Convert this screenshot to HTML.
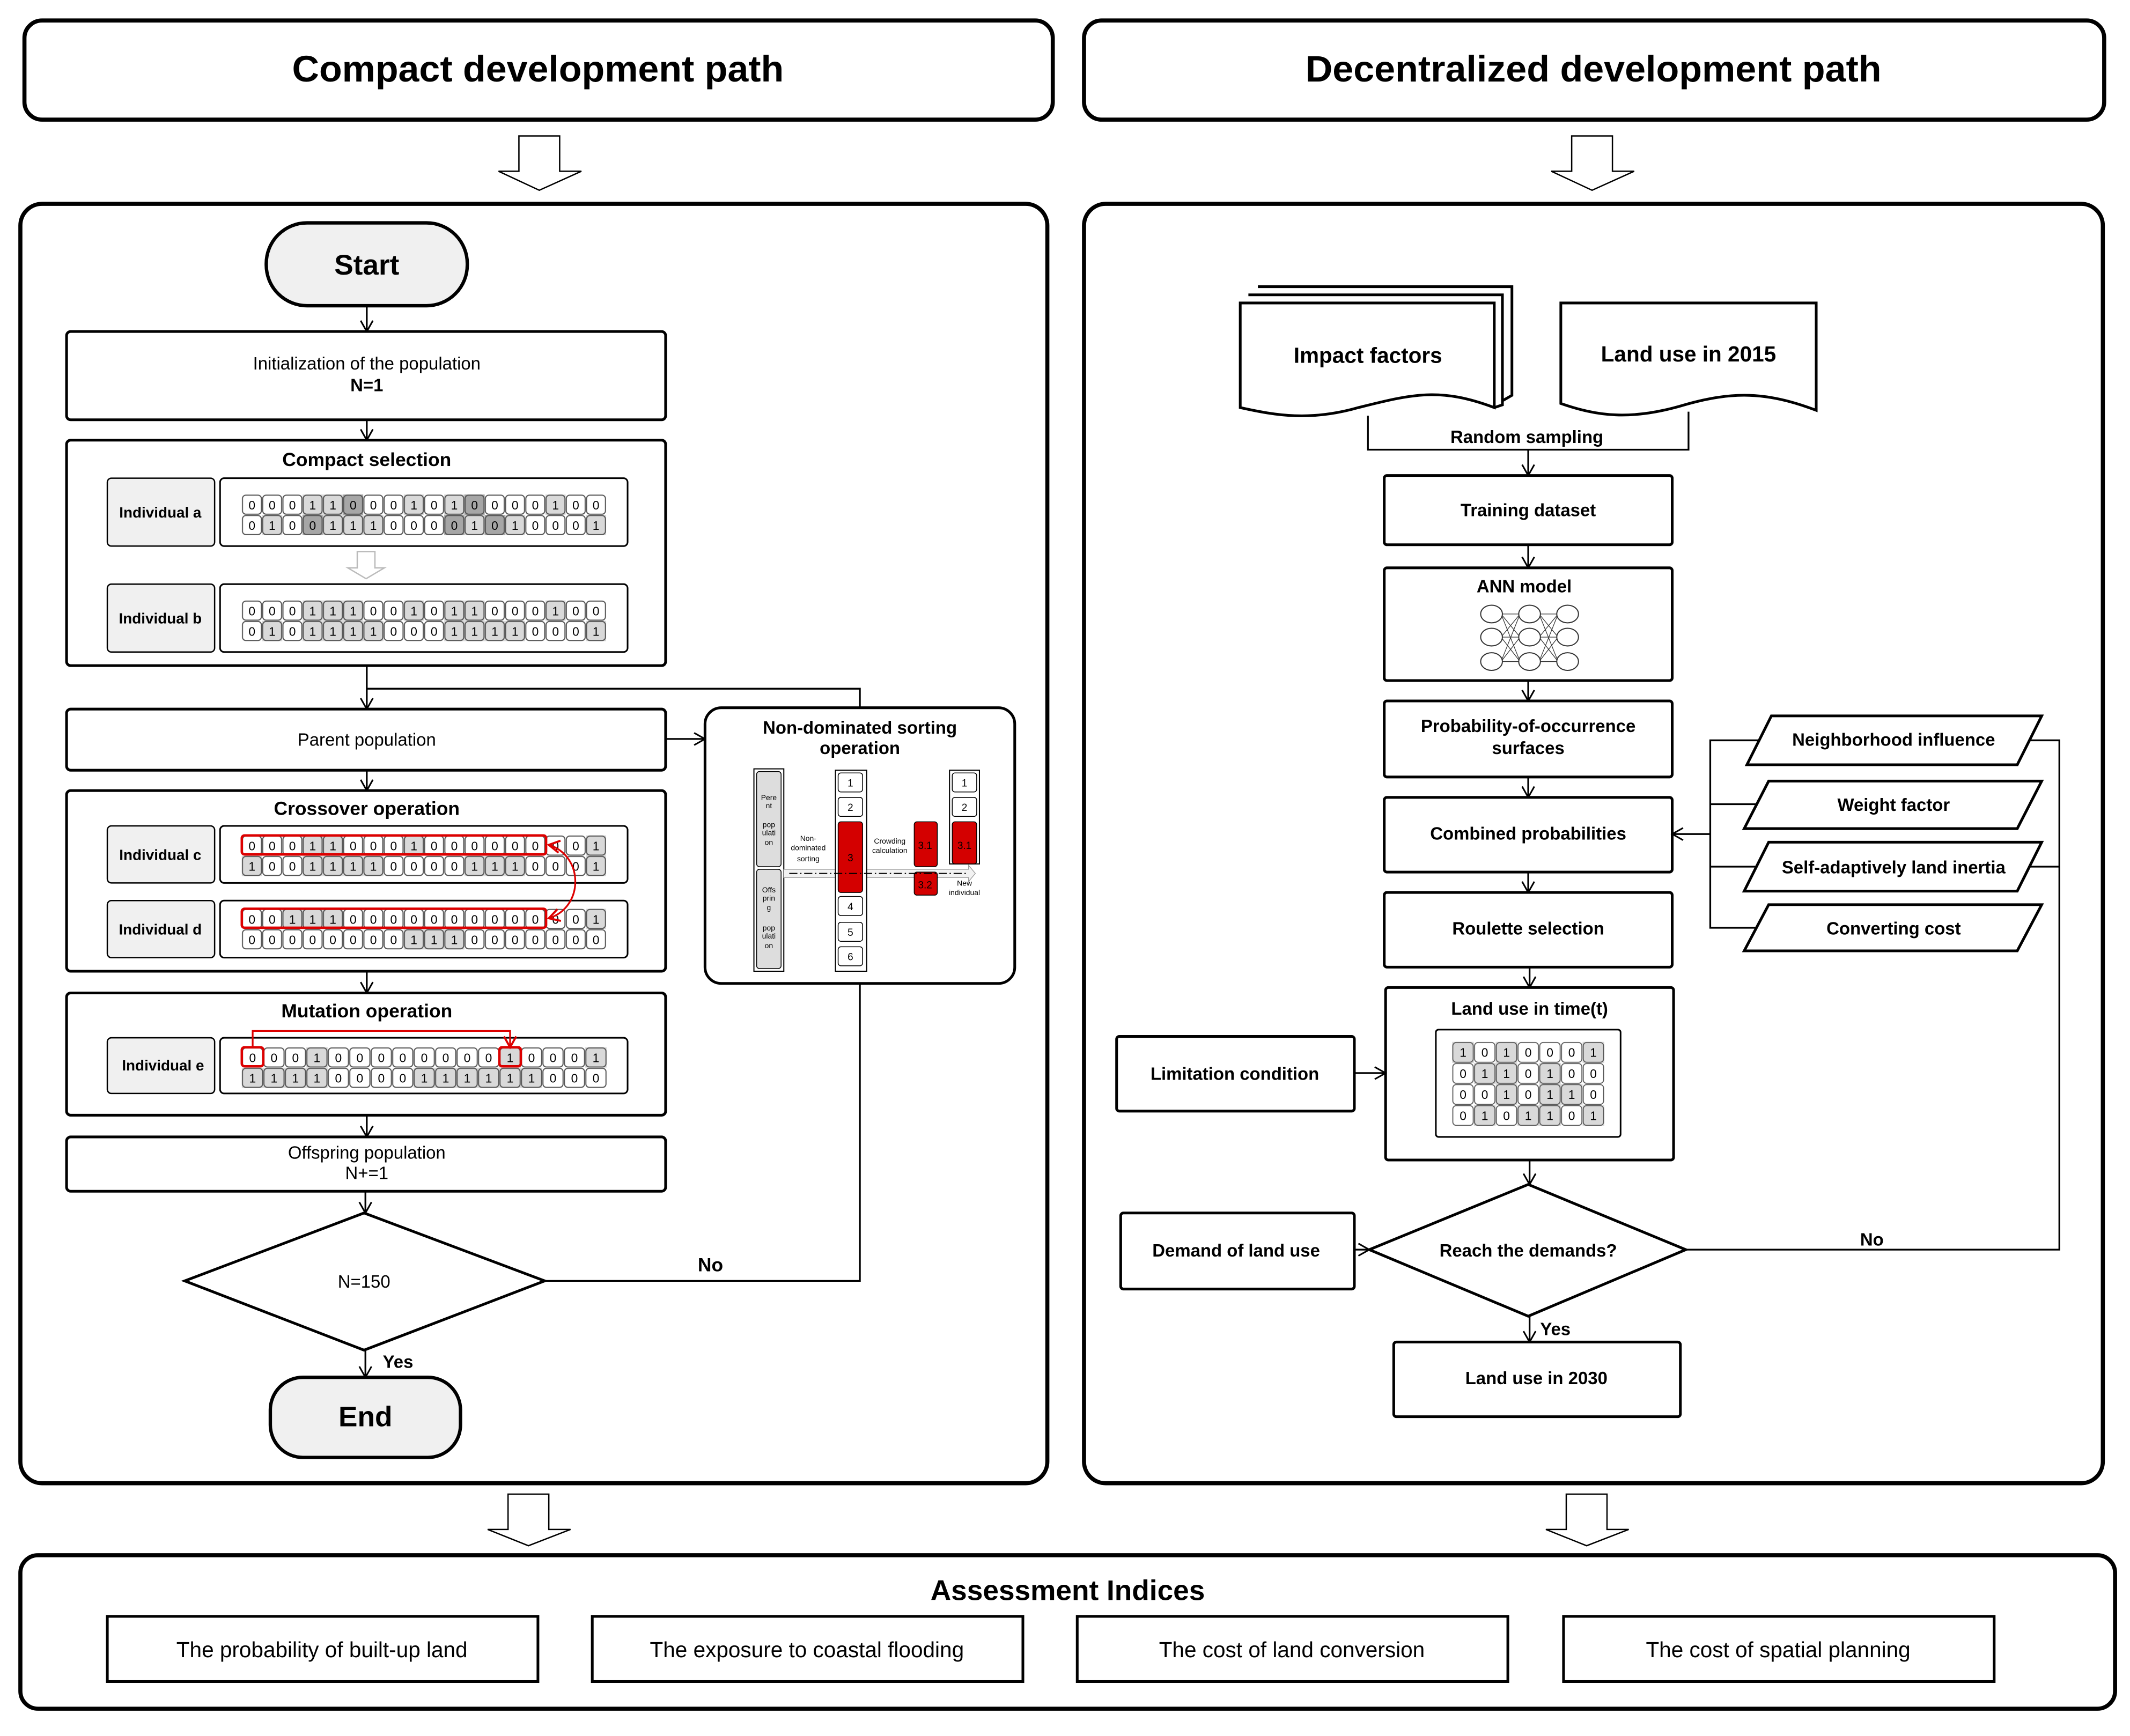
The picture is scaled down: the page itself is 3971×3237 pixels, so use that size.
<!DOCTYPE html>
<html><head><meta charset="utf-8"><style>
html,body{margin:0;padding:0;background:#fff}
svg{display:block}
text{font-family:"Liberation Sans","DejaVu Sans",sans-serif;fill:#000}
.b{font-weight:bold}
.box{fill:#fff;stroke:#000;stroke-width:2}
.thin{fill:#fff;stroke:#000;stroke-width:1.2}
.ln{fill:none;stroke:#000;stroke-width:1.3}
.g1{fill:#d9d9d9}
.g2{fill:#a6a6a6}
.cells{font-size:9px;text-anchor:middle}
.c{text-anchor:middle}
</style></head><body>
<svg width="3971" height="3237" viewBox="0 0 1568 1278" xmlns="http://www.w3.org/2000/svg">
<defs>
<marker id="a" markerWidth="12" markerHeight="12" refX="10" refY="6" orient="auto" markerUnits="userSpaceOnUse"><path d="M2,1.5 L10,6 L2,10.5" fill="none" stroke="#000" stroke-width="1.2"/></marker>
<marker id="r" markerWidth="12" markerHeight="12" refX="10" refY="6" orient="auto" markerUnits="userSpaceOnUse"><path d="M2,1.5 L10,6 L2,10.5" fill="none" stroke="#d00" stroke-width="1.5"/></marker>
<pattern id="p18" patternUnits="userSpaceOnUse" x="0" y="0" width="14.9" height="15"><rect x="0.5" y="0.5" width="13.9" height="14" rx="2.5" fill="none" stroke="#555" stroke-width="0.8"/></pattern>
<pattern id="p17" patternUnits="userSpaceOnUse" x="0" y="0" width="15.8" height="15"><rect x="0.5" y="0.5" width="14.8" height="14" rx="2.5" fill="none" stroke="#555" stroke-width="0.8"/></pattern>
<pattern id="p7" patternUnits="userSpaceOnUse" x="0" y="0" width="16" height="15.5"><rect x="0.5" y="0.5" width="15" height="14.5" rx="2.5" fill="none" stroke="#555" stroke-width="0.7"/></pattern>
</defs>

<!-- headers -->
<rect x="18" y="15" width="757" height="73" rx="13" fill="#fff" stroke="#000" stroke-width="3"/>
<text x="396" y="60" class="b c" font-size="27" textLength="362" lengthAdjust="spacingAndGlyphs">Compact development path</text>
<rect x="798" y="15" width="751" height="73" rx="13" fill="#fff" stroke="#000" stroke-width="3"/>
<text x="1173" y="60" class="b c" font-size="27" textLength="424" lengthAdjust="spacingAndGlyphs">Decentralized development path</text>

<!-- hollow arrows -->
<path d="M382,100 H412 V126 H428 L397,140 L367,126 H382 Z" fill="#fff" stroke="#000" stroke-width="1"/>
<path d="M1157,100 H1187 V126 H1203 L1172,140 L1142,126 H1157 Z" fill="#fff" stroke="#000" stroke-width="1"/>
<path d="M374,1100 H404 V1126 H420 L389,1138 L359,1126 H374 Z" fill="#fff" stroke="#000" stroke-width="1"/>
<path d="M1153,1100 H1183 V1126 H1199 L1168,1138 L1138,1126 H1153 Z" fill="#fff" stroke="#000" stroke-width="1"/>

<!-- panels -->
<rect x="15" y="150" width="756" height="942" rx="16" fill="#fff" stroke="#000" stroke-width="3"/>
<rect x="798" y="150" width="750" height="942" rx="16" fill="#fff" stroke="#000" stroke-width="3"/>

<!-- bottom -->
<rect x="15" y="1145" width="1542" height="113" rx="13" fill="#fff" stroke="#000" stroke-width="3"/>
<text x="786" y="1178" class="b c" font-size="21" textLength="202" lengthAdjust="spacingAndGlyphs">Assessment Indices</text>
<rect x="79" y="1190" width="317" height="48" class="box"/>
<text x="237" y="1220" class="c" font-size="16">The probability of built-up land</text>
<rect x="436" y="1190" width="317" height="48" class="box"/>
<text x="594" y="1220" class="c" font-size="16">The exposure to coastal flooding</text>
<rect x="793" y="1190" width="317" height="48" class="box"/>
<text x="951" y="1220" class="c" font-size="16">The cost of land conversion</text>
<rect x="1151" y="1190" width="317" height="48" class="box"/>
<text x="1309" y="1220" class="c" font-size="16">The cost of spatial planning</text>

<!-- ===== LEFT FLOW ===== -->
<rect x="196" y="164" width="148" height="61" rx="30" fill="#f0f0f0" stroke="#000" stroke-width="2.5"/>
<text x="270" y="202" class="b c" font-size="21">Start</text>
<line x1="270" y1="225" x2="270" y2="244" class="ln" marker-end="url(#a)"/>
<rect x="49" y="244" width="441" height="65" rx="3" class="box"/>
<text x="270" y="272" class="c" font-size="13">Initialization of the population</text>
<text x="270" y="288" class="b c" font-size="13">N=1</text>
<line x1="270" y1="309" x2="270" y2="324" class="ln" marker-end="url(#a)"/>

<rect x="49" y="324" width="441" height="166" rx="3" class="box"/>
<text x="270" y="343" class="b c" font-size="14">Compact selection</text>
<rect x="79" y="352" width="79" height="50" rx="3" fill="#f0f0f0" stroke="#000" stroke-width="1"/>
<text x="118" y="381" class="b c" font-size="11">Individual a</text>
<rect x="162" y="352" width="300" height="50" rx="3" class="thin"/>
<g transform="translate(178,364)">
<rect width="268.2" height="15" fill="#fff"/>
<rect x="44.7" width="14.9" height="15" class="g1"/><rect x="59.6" width="14.9" height="15" class="g1"/><rect x="119.2" width="14.9" height="15" class="g1"/><rect x="149" width="14.9" height="15" class="g1"/><rect x="223.5" width="14.9" height="15" class="g1"/>
<rect x="74.5" width="14.9" height="15" class="g2"/><rect x="163.9" width="14.9" height="15" class="g2"/>
<rect width="268.2" height="15" fill="url(#p18)"/>
<text class="cells" y="11" x="7.45 22.35 37.25 52.15 67.05 81.95 96.85 111.75 126.65 141.55 156.45 171.35 186.25 201.15 216.05 230.95 245.85 260.75">000110001010000100</text>
</g>
<g transform="translate(178,379)">
<rect width="268.2" height="15" fill="#fff"/>
<rect x="14.9" width="14.9" height="15" class="g1"/><rect x="59.6" width="14.9" height="15" class="g1"/><rect x="74.5" width="14.9" height="15" class="g1"/><rect x="89.4" width="14.9" height="15" class="g1"/><rect x="163.9" width="14.9" height="15" class="g1"/><rect x="193.7" width="14.9" height="15" class="g1"/><rect x="253.3" width="14.9" height="15" class="g1"/>
<rect x="44.7" width="14.9" height="15" class="g2"/><rect x="149" width="14.9" height="15" class="g2"/><rect x="178.8" width="14.9" height="15" class="g2"/>
<rect width="268.2" height="15" fill="url(#p18)"/>
<text class="cells" y="11" x="7.45 22.35 37.25 52.15 67.05 81.95 96.85 111.75 126.65 141.55 156.45 171.35 186.25 201.15 216.05 230.95 245.85 260.75">010011100001010001</text>
</g>
<path d="M263,406 H276 V418 H283 L269.5,426 L256,418 H263 Z" fill="#fff" stroke="#bbb" stroke-width="1"/>
<rect x="79" y="430" width="79" height="50" rx="3" fill="#f0f0f0" stroke="#000" stroke-width="1"/>
<text x="118" y="459" class="b c" font-size="11">Individual b</text>
<rect x="162" y="430" width="300" height="50" rx="3" class="thin"/>
<g transform="translate(178,442)">
<rect width="268.2" height="15" fill="#fff"/>
<rect x="44.7" width="14.9" height="15" class="g1"/><rect x="59.6" width="14.9" height="15" class="g1"/><rect x="74.5" width="14.9" height="15" class="g1"/><rect x="119.2" width="14.9" height="15" class="g1"/><rect x="149" width="14.9" height="15" class="g1"/><rect x="163.9" width="14.9" height="15" class="g1"/><rect x="223.5" width="14.9" height="15" class="g1"/>
<rect width="268.2" height="15" fill="url(#p18)"/>
<text class="cells" y="11" x="7.45 22.35 37.25 52.15 67.05 81.95 96.85 111.75 126.65 141.55 156.45 171.35 186.25 201.15 216.05 230.95 245.85 260.75">000111001011000100</text>
</g>
<g transform="translate(178,457)">
<rect width="268.2" height="15" fill="#fff"/>
<rect x="14.9" width="14.9" height="15" class="g1"/><rect x="44.7" width="14.9" height="15" class="g1"/><rect x="59.6" width="14.9" height="15" class="g1"/><rect x="74.5" width="14.9" height="15" class="g1"/><rect x="89.4" width="14.9" height="15" class="g1"/><rect x="149" width="14.9" height="15" class="g1"/><rect x="163.9" width="14.9" height="15" class="g1"/><rect x="178.8" width="14.9" height="15" class="g1"/><rect x="193.7" width="14.9" height="15" class="g1"/><rect x="253.3" width="14.9" height="15" class="g1"/>
<rect width="268.2" height="15" fill="url(#p18)"/>
<text class="cells" y="11" x="7.45 22.35 37.25 52.15 67.05 81.95 96.85 111.75 126.65 141.55 156.45 171.35 186.25 201.15 216.05 230.95 245.85 260.75">010111100011110001</text>
</g>

<line x1="270" y1="490" x2="270" y2="522" class="ln" marker-end="url(#a)"/>
<polyline points="633,521 633,507 270,507" class="ln"/>
<rect x="49" y="522" width="441" height="45" rx="3" class="box"/>
<text x="270" y="549" class="c" font-size="13">Parent population</text>
<line x1="490" y1="544" x2="519" y2="544" class="ln" marker-end="url(#a)"/>

<!-- NDS -->
<rect x="519" y="521" width="228" height="203" rx="12" fill="#fff" stroke="#000" stroke-width="2"/>
<text x="633" y="540" class="b c" font-size="13">Non-dominated sorting</text>
<text x="633" y="555" class="b c" font-size="13">operation</text>
<rect x="555" y="566" width="22" height="149" fill="#fff" stroke="#000" stroke-width="0.8"/>
<rect x="557" y="568" width="18" height="70" rx="2" fill="#ddd" stroke="#000" stroke-width="0.6"/>
<rect x="557" y="640" width="18" height="73" rx="2" fill="#ddd" stroke="#000" stroke-width="0.6"/>
<g font-size="5.5" class="c"><text x="566" y="589">Pere</text><text x="566" y="595">nt</text><text x="566" y="609">pop</text><text x="566" y="615">ulati</text><text x="566" y="622">on</text>
<text x="566" y="657">Offs</text><text x="566" y="663">prin</text><text x="566" y="670">g</text><text x="566" y="685">pop</text><text x="566" y="691">ulati</text><text x="566" y="698">on</text>
<text x="595" y="619">Non-</text><text x="595" y="626">dominated</text><text x="595" y="634">sorting</text>
<text x="655" y="621">Crowding</text><text x="655" y="628">calculation</text>
<text x="710" y="652">New</text><text x="710" y="659">individual</text></g>
<path d="M577,640 H713 V637 L718,643 L713,649 V646 H577 Z" fill="#f2f2f2" stroke="#999" stroke-width="0.5"/>
<rect x="615" y="567" width="23" height="148" fill="#fff" stroke="#000" stroke-width="0.8"/>
<rect x="699" y="567" width="22" height="69" fill="#fff" stroke="#000" stroke-width="0.8"/>
<g stroke="#000" stroke-width="0.6">
<rect x="617" y="569" width="18" height="14" rx="2" fill="#fff"/><rect x="617" y="587" width="18" height="14" rx="2" fill="#fff"/>
<rect x="617" y="605" width="18" height="52" rx="2" fill="#d40000"/>
<rect x="617" y="660" width="18" height="14" rx="2" fill="#fff"/><rect x="617" y="679" width="18" height="14" rx="2" fill="#fff"/><rect x="617" y="697" width="18" height="14" rx="2" fill="#fff"/>
<rect x="673" y="605" width="17" height="33" rx="2" fill="#d40000"/><rect x="673" y="642" width="17" height="17" rx="2" fill="#d40000"/>
<rect x="701" y="569" width="18" height="14" rx="2" fill="#fff"/><rect x="701" y="587" width="18" height="14" rx="2" fill="#fff"/>
<rect x="701" y="605" width="18" height="31" rx="2" fill="#d40000"/>
</g>
<line x1="581" y1="643" x2="713" y2="643" stroke="#000" stroke-width="0.8" stroke-dasharray="6,2,1,2"/>
<g font-size="7.5" class="c"><text x="626" y="579">1</text><text x="626" y="597">2</text><text x="626" y="634">3</text><text x="626" y="670">4</text><text x="626" y="689">5</text><text x="626" y="707">6</text>
<text x="681" y="625">3.1</text><text x="681" y="654">3.2</text><text x="710" y="579">1</text><text x="710" y="597">2</text><text x="710" y="625">3.1</text></g>

<line x1="270" y1="567" x2="270" y2="582" class="ln" marker-end="url(#a)"/>
<rect x="49" y="582" width="441" height="133" rx="3" class="box"/>
<text x="270" y="600" class="b c" font-size="14">Crossover operation</text>
<rect x="79" y="608" width="79" height="42" rx="3" fill="#f0f0f0" stroke="#000" stroke-width="1"/>
<text x="118" y="633" class="b c" font-size="11">Individual c</text>
<rect x="162" y="608" width="300" height="42" rx="3" class="thin"/>
<g transform="translate(178,615)">
<rect width="268.2" height="15" fill="#fff"/>
<rect x="44.7" width="14.9" height="15" class="g1"/><rect x="59.6" width="14.9" height="15" class="g1"/><rect x="119.2" width="14.9" height="15" class="g1"/><rect x="253.3" width="14.9" height="15" class="g1"/>
<rect width="268.2" height="15" fill="url(#p18)"/>
<text class="cells" y="11" x="7.45 22.35 37.25 52.15 67.05 81.95 96.85 111.75 126.65 141.55 156.45 171.35 186.25 201.15 216.05 230.95 245.85 260.75">000110001000000001</text>
</g>
<g transform="translate(178,630)">
<rect width="268.2" height="15" fill="#fff"/>
<rect x="0" width="14.9" height="15" class="g1"/><rect x="44.7" width="14.9" height="15" class="g1"/><rect x="59.6" width="14.9" height="15" class="g1"/><rect x="74.5" width="14.9" height="15" class="g1"/><rect x="89.4" width="14.9" height="15" class="g1"/><rect x="163.9" width="14.9" height="15" class="g1"/><rect x="178.8" width="14.9" height="15" class="g1"/><rect x="193.7" width="14.9" height="15" class="g1"/><rect x="253.3" width="14.9" height="15" class="g1"/>
<rect width="268.2" height="15" fill="url(#p18)"/>
<text class="cells" y="11" x="7.45 22.35 37.25 52.15 67.05 81.95 96.85 111.75 126.65 141.55 156.45 171.35 186.25 201.15 216.05 230.95 245.85 260.75">100111100001110001</text>
</g>
<rect x="178" y="615" width="224" height="14" rx="2" fill="none" stroke="#d00" stroke-width="1.8"/>
<rect x="79" y="663" width="79" height="42" rx="3" fill="#f0f0f0" stroke="#000" stroke-width="1"/>
<text x="118" y="688" class="b c" font-size="11">Individual d</text>
<rect x="162" y="663" width="300" height="42" rx="3" class="thin"/>
<g transform="translate(178,669)">
<rect width="268.2" height="15" fill="#fff"/>
<rect x="29.8" width="14.9" height="15" class="g1"/><rect x="44.7" width="14.9" height="15" class="g1"/><rect x="59.6" width="14.9" height="15" class="g1"/><rect x="253.3" width="14.9" height="15" class="g1"/>
<rect width="268.2" height="15" fill="url(#p18)"/>
<text class="cells" y="11" x="7.45 22.35 37.25 52.15 67.05 81.95 96.85 111.75 126.65 141.55 156.45 171.35 186.25 201.15 216.05 230.95 245.85 260.75">001110000000000001</text>
</g>
<g transform="translate(178,684)">
<rect width="268.2" height="15" fill="#fff"/>
<rect x="119.2" width="14.9" height="15" class="g1"/><rect x="134.1" width="14.9" height="15" class="g1"/><rect x="149" width="14.9" height="15" class="g1"/>
<rect width="268.2" height="15" fill="url(#p18)"/>
<text class="cells" y="11" x="7.45 22.35 37.25 52.15 67.05 81.95 96.85 111.75 126.65 141.55 156.45 171.35 186.25 201.15 216.05 230.95 245.85 260.75">000000001110000000</text>
</g>
<rect x="178" y="669" width="224" height="14" rx="2" fill="none" stroke="#d00" stroke-width="1.8"/>
<path d="M404,622 C430,630 430,668 404,676" fill="none" stroke="#d00" stroke-width="1.3" marker-end="url(#r)"/>
<path d="M420,640 C422,630 416,624 404,622" fill="none" stroke="#d00" stroke-width="0.01" marker-end="url(#r)"/>

<line x1="270" y1="715" x2="270" y2="731" class="ln" marker-end="url(#a)"/>
<rect x="49" y="731" width="441" height="90" rx="3" class="box"/>
<text x="270" y="749" class="b c" font-size="14">Mutation operation</text>
<rect x="79" y="764" width="79" height="41" rx="3" fill="#f0f0f0" stroke="#000" stroke-width="1"/>
<text x="120" y="788" class="b c" font-size="11">Individual e</text>
<rect x="162" y="764" width="300" height="41" rx="3" class="thin"/>
<g transform="translate(178,771)">
<rect width="268.6" height="15" fill="#fff"/>
<rect x="47.4" width="15.8" height="15" class="g1"/><rect x="189.6" width="15.8" height="15" class="g1"/><rect x="252.8" width="15.8" height="15" class="g1"/>
<rect width="268.6" height="15" fill="url(#p17)"/>
<text class="cells" y="11" x="7.9 23.7 39.5 55.3 71.1 86.9 102.7 118.5 134.3 150.1 165.9 181.7 197.5 213.3 229.1 244.9 260.7">00010000000010001</text>
</g>
<g transform="translate(178,786)">
<rect width="268.6" height="15" fill="#fff"/>
<rect x="0" width="63.2" height="15" class="g1"/><rect x="126.4" width="94.8" height="15" class="g1"/>
<rect width="268.6" height="15" fill="url(#p17)"/>
<text class="cells" y="11" x="7.9 23.7 39.5 55.3 71.1 86.9 102.7 118.5 134.3 150.1 165.9 181.7 197.5 213.3 229.1 244.9 260.7">11110000111111000</text>
</g>
<rect x="178" y="771" width="15.8" height="14" rx="2" fill="none" stroke="#d00" stroke-width="1.8"/>
<rect x="367.6" y="771" width="15.8" height="14" rx="2" fill="none" stroke="#d00" stroke-width="1.8"/>
<polyline points="186,771 186,759 375.5,759 375.5,771" fill="none" stroke="#d00" stroke-width="1.3" marker-end="url(#r)"/>

<line x1="270" y1="821" x2="270" y2="837" class="ln" marker-end="url(#a)"/>
<rect x="49" y="837" width="441" height="40" rx="3" class="box"/>
<text x="270" y="853" class="c" font-size="13">Offspring population</text>
<text x="270" y="868" class="c" font-size="13">N+=1</text>
<line x1="269" y1="877" x2="269" y2="893" class="ln" marker-end="url(#a)"/>
<polygon points="268,893 401,943 268,994 136,943" fill="#fff" stroke="#000" stroke-width="2"/>
<text x="268" y="948" class="c" font-size="13">N=150</text>
<polyline points="401,943 633,943 633,724" class="ln"/>
<text x="523" y="936" class="b c" font-size="14">No</text>
<line x1="269" y1="994" x2="269" y2="1014" class="ln" marker-end="url(#a)"/>
<text x="293" y="1007" class="b c" font-size="13">Yes</text>
<rect x="199" y="1014" width="140" height="59" rx="24" fill="#f0f0f0" stroke="#000" stroke-width="2.5"/>
<text x="269" y="1050" class="b c" font-size="21">End</text>

<!-- ===== RIGHT FLOW ===== -->
<path d="M926,211 H1113 V291 L1106,295" fill="#fff" stroke="#000" stroke-width="2"/>
<path d="M919,217 H1106 V298 L1100,300" fill="#fff" stroke="#000" stroke-width="2"/>
<path d="M913,223 H1100 V300 C1060,285 1040,290 1000,300 C965,310 940,306 913,300 Z" fill="#fff" stroke="#000" stroke-width="2"/>
<text x="1007" y="267" class="b c" font-size="16">Impact factors</text>
<path d="M1149,223 H1337 V302 C1300,288 1275,288 1240,298 C1200,310 1175,306 1149,297 Z" fill="#fff" stroke="#000" stroke-width="2"/>
<text x="1243" y="266" class="b c" font-size="16">Land use in 2015</text>
<polyline points="1007,306 1007,331 1243,331 1243,303" class="ln"/>
<text x="1124" y="326" class="b c" font-size="13">Random sampling</text>
<line x1="1125" y1="331" x2="1125" y2="350" class="ln" marker-end="url(#a)"/>
<rect x="1019" y="350" width="212" height="51" rx="2" class="box"/>
<text x="1125" y="380" class="b c" font-size="13">Training dataset</text>
<line x1="1125" y1="401" x2="1125" y2="418" class="ln" marker-end="url(#a)"/>
<rect x="1019" y="418" width="212" height="83" rx="2" class="box"/>
<text x="1122" y="436" class="b c" font-size="13">ANN model</text>
<g stroke="#333" stroke-width="0.5" fill="none">
<path d="M1105,452 L1119,452 M1105,452 L1119,469 M1105,452 L1119,487 M1105,469 L1119,452 M1105,469 L1119,469 M1105,469 L1119,487 M1105,487 L1119,452 M1105,487 L1119,469 M1105,487 L1119,487"/>
<path d="M1133,452 L1147,452 M1133,452 L1147,469 M1133,452 L1147,487 M1133,469 L1147,452 M1133,469 L1147,469 M1133,469 L1147,487 M1133,487 L1147,452 M1133,487 L1147,469 M1133,487 L1147,487"/>
</g>
<g fill="#fff" stroke="#333" stroke-width="0.8">
<ellipse cx="1098" cy="452" rx="8" ry="6.5"/><ellipse cx="1098" cy="469" rx="8" ry="6.5"/><ellipse cx="1098" cy="487" rx="8" ry="6.5"/>
<ellipse cx="1126" cy="452" rx="8" ry="6.5"/><ellipse cx="1126" cy="469" rx="8" ry="6.5"/><ellipse cx="1126" cy="487" rx="8" ry="6.5"/>
<ellipse cx="1154" cy="452" rx="8" ry="6.5"/><ellipse cx="1154" cy="469" rx="8" ry="6.5"/><ellipse cx="1154" cy="487" rx="8" ry="6.5"/>
</g>
<line x1="1125" y1="501" x2="1125" y2="516" class="ln" marker-end="url(#a)"/>
<rect x="1019" y="516" width="212" height="56" rx="2" class="box"/>
<text x="1125" y="539" class="b c" font-size="13">Probability-of-occurrence</text>
<text x="1125" y="555" class="b c" font-size="13">surfaces</text>
<line x1="1125" y1="572" x2="1125" y2="587" class="ln" marker-end="url(#a)"/>
<rect x="1019" y="587" width="212" height="55" rx="2" class="box"/>
<text x="1125" y="618" class="b c" font-size="13">Combined probabilities</text>
<line x1="1125" y1="642" x2="1125" y2="657" class="ln" marker-end="url(#a)"/>
<rect x="1019" y="657" width="212" height="55" rx="2" class="box"/>
<text x="1125" y="688" class="b c" font-size="13">Roulette selection</text>
<line x1="1126" y1="712" x2="1126" y2="727" class="ln" marker-end="url(#a)"/>
<rect x="1020" y="727" width="212" height="127" rx="2" class="box"/>
<text x="1126" y="747" class="b c" font-size="13">Land use in time(t)</text>
<rect x="1057" y="758" width="136" height="79" rx="2" class="thin"/>
<g transform="translate(1069,767)">
<rect width="112" height="62" fill="#fff"/>
<g class="g1">
<rect x="0" y="0" width="16" height="15.5"/><rect x="32" y="0" width="16" height="15.5"/><rect x="96" y="0" width="16" height="15.5"/>
<rect x="16" y="15.5" width="32" height="15.5"/><rect x="64" y="15.5" width="16" height="15.5"/>
<rect x="32" y="31" width="16" height="15.5"/><rect x="64" y="31" width="32" height="15.5"/>
<rect x="16" y="46.5" width="16" height="15.5"/><rect x="48" y="46.5" width="32" height="15.5"/><rect x="96" y="46.5" width="16" height="15.5"/>
</g>
<rect width="112" height="62" fill="url(#p7)"/>
<g class="cells" font-size="8">
<text y="11" x="8 24 40 56 72 88 104">1010001</text>
<text y="26.5" x="8 24 40 56 72 88 104">0110100</text>
<text y="42" x="8 24 40 56 72 88 104">0010110</text>
<text y="57.5" x="8 24 40 56 72 88 104">0101101</text>
</g>
</g>
<rect x="822" y="763" width="175" height="55" rx="2" class="box"/>
<text x="909" y="795" class="b c" font-size="13">Limitation condition</text>
<line x1="997" y1="790" x2="1020" y2="790" class="ln" marker-end="url(#a)"/>
<line x1="1126" y1="854" x2="1126" y2="872" class="ln" marker-end="url(#a)"/>
<polygon points="1125,872 1241,920 1125,969 1008,920" fill="#fff" stroke="#000" stroke-width="2"/>
<text x="1125" y="925" class="b c" font-size="13">Reach the demands?</text>
<rect x="825" y="893" width="172" height="56" rx="2" class="box"/>
<text x="910" y="925" class="b c" font-size="13">Demand of land use</text>
<line x1="997" y1="920" x2="1008" y2="920" class="ln" marker-end="url(#a)"/>
<polyline points="1241,920 1516,920 1516,545 1494,545" class="ln"/>
<line x1="1516" y1="638" x2="1489" y2="638" class="ln"/>
<text x="1378" y="917" class="b c" font-size="13">No</text>
<line x1="1126" y1="969" x2="1126" y2="988" class="ln" marker-end="url(#a)"/>
<text x="1145" y="983" class="b c" font-size="13">Yes</text>
<rect x="1026" y="988" width="211" height="55" rx="2" class="box"/>
<text x="1131" y="1019" class="b c" font-size="13">Land use in 2030</text>

<polyline points="1295,545 1259,545 1259,683 1293,683" class="ln"/>
<line x1="1259" y1="592" x2="1293" y2="592" class="ln"/>
<line x1="1259" y1="638" x2="1293" y2="638" class="ln"/>
<line x1="1259" y1="614" x2="1231" y2="614" class="ln" marker-end="url(#a)"/>
<polygon points="1304,527 1503,527 1485,563 1286,563" fill="#fff" stroke="#000" stroke-width="2"/>
<text x="1394" y="549" class="b c" font-size="13">Neighborhood influence</text>
<polygon points="1302,575 1503,575 1485,610 1284,610" fill="#fff" stroke="#000" stroke-width="2"/>
<text x="1394" y="597" class="b c" font-size="13">Weight factor</text>
<polygon points="1302,620 1503,620 1485,656 1284,656" fill="#fff" stroke="#000" stroke-width="2"/>
<text x="1394" y="643" class="b c" font-size="13">Self-adaptively  land inertia</text>
<polygon points="1302,666 1503,666 1485,700 1284,700" fill="#fff" stroke="#000" stroke-width="2"/>
<text x="1394" y="688" class="b c" font-size="13">Converting cost</text>
</svg>
</body></html>
